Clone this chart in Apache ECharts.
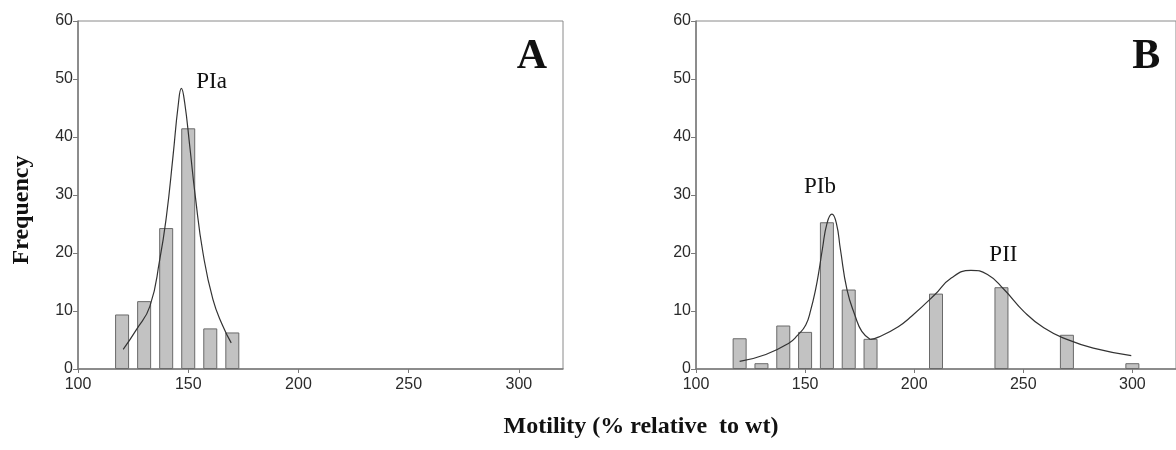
<!DOCTYPE html>
<html>
<head>
<meta charset="utf-8">
<script src="https://cdn.jsdelivr.net/npm/echarts@6/dist/echarts.min.js"></script>
<style>html,body{margin:0;padding:0;background:#fff;}#c{width:1176px;height:450px;}</style>
</head>
<body>
<div id="c"></div>
<script>
// ---- data ----
const xTicks = [100, 150, 200, 250, 300];
const barsA_x = [120, 130, 140, 150, 160, 170];
const barsA_y = [9.4, 11.7, 24.3, 41.5, 7.0, 6.3];
const curveA = [[120.5,3.4],[126.5,6.8],[132.6,10.8],[137.1,18.9],[140.1,26.3],[143.1,36.7],[145.4,45.3],[146.9,48.4],[148.4,45.9],[150.7,38.4],[153.2,29.8],[156.7,20.0],[161.2,12.0],[165.7,7.4],[169.5,4.5]];
const barsB_x = [120, 130, 140, 150, 160, 170, 180, 210, 240, 270, 300];
const barsB_y = [5.3, 1.0, 7.5, 6.4, 25.3, 13.7, 5.2, 13.0, 14.1, 5.9, 1.0];
const curvePIb = [[120,1.3],[132,2.5],[142.7,4.5],[146.5,5.8],[150.3,7.6],[152.6,10.2],[154.8,13.7],[156.4,17.0],[157.9,20.6],[160.1,25.2],[162.3,26.7],[164.3,25.2],[166.2,20.6],[169.2,13.7],[173,9.1],[176,6.5],[179.9,5.1]];
const curvePII = [[179.9,5.1],[183.6,5.5],[192.7,7.3],[198.8,9.1],[209.4,12.8],[217,15.7],[226,17.0],[233.6,16.3],[241.2,13.7],[250.3,9.9],[259.4,7.1],[270,5.1],[282.1,3.6],[299.5,2.3]];
const peakLabels = [
  {panel: 0, name: 'PIa', at: [160.6, 49.5]},
  {panel: 1, name: 'PIb', at: [156.8, 31.4]},
  {panel: 1, name: 'PII', at: [240.9, 19.7]}
];
const panelLetters = [{panel: 0, name: 'A', at: [305.9, 53.8]}, {panel: 1, name: 'B', at: [306.4, 53.8]}];

// ---- chart ----
const chart = echarts.init(document.getElementById('c'), null, {renderer: 'canvas'});
const serif = "'Liberation Serif', 'Times New Roman', serif";
const sans = "'Liberation Sans', Arial, sans-serif";

function xAxis(i) {
  return {
    type: 'value', gridIndex: i, min: 100, max: 320, interval: 50,
    axisLine: {show: true, onZero: false, lineStyle: {color: '#7a7a7a', width: 1.5}},
    axisTick: {show: true, inside: false, length: 4, lineStyle: {color: '#7a7a7a'}, customValues: xTicks},
    axisLabel: {color: '#2a2a2a', fontSize: 16, fontFamily: sans, margin: 8, customValues: xTicks},
    splitLine: {show: false}
  };
}
function yAxis(i) {
  return {
    type: 'value', gridIndex: i, min: 0, max: 60, interval: 10,
    axisLine: {show: true, lineStyle: {color: '#7a7a7a', width: 1.5}},
    axisTick: {show: true, inside: false, length: 5, lineStyle: {color: '#7a7a7a'}},
    axisLabel: {color: '#2a2a2a', fontSize: 16, fontFamily: sans, margin: 5},
    splitLine: {show: false}
  };
}
const barStyle = {color: '#c2c2c2', borderColor: '#6a6a6a', borderWidth: 1};
const lineStyle = {color: '#333', width: 1.2};

const option = {
  animation: false,
  backgroundColor: '#fff',
  grid: [
    {left: 78, top: 21, width: 485, height: 348, show: true, borderColor: '#8a8a8a', borderWidth: 1},
    {left: 696, top: 21, right: -4, height: 348, show: true, borderColor: '#8a8a8a', borderWidth: 1}
  ],
  xAxis: [xAxis(0), xAxis(1)],
  yAxis: [yAxis(0), yAxis(1)],
  series: [
    {type: 'bar', xAxisIndex: 0, yAxisIndex: 0, barWidth: 14, itemStyle: barStyle,
      data: barsA_x.map((x, k) => [x, barsA_y[k]])},
    {type: 'line', xAxisIndex: 0, yAxisIndex: 0, data: curveA, smooth: 0.5, showSymbol: false, lineStyle: lineStyle},
    {type: 'bar', xAxisIndex: 1, yAxisIndex: 1, barWidth: 14, itemStyle: barStyle,
      data: barsB_x.map((x, k) => [x, barsB_y[k]])},
    {type: 'line', xAxisIndex: 1, yAxisIndex: 1, data: curvePIb, smooth: 0.5, showSymbol: false, lineStyle: lineStyle},
    {type: 'line', xAxisIndex: 1, yAxisIndex: 1, data: curvePII, smooth: 0.5, showSymbol: false, lineStyle: lineStyle}
  ],
  graphic: [
    {type: 'text', x: 641, y: 427, style: {text: 'Motility (% relative  to wt)', font: "bold 24px " + serif, fill: '#111', align: 'center', verticalAlign: 'middle'}},
    {type: 'text', x: 22, y: 210, rotation: Math.PI / 2, style: {text: 'Frequency', font: "bold 24px " + serif, fill: '#111', align: 'center', verticalAlign: 'middle'}}
  ]
};
chart.setOption(option);

// annotation texts placed through the axes' own scales
const extra = [];
function place(list, size, weight) {
  list.forEach(d => {
    const p = chart.convertToPixel({xAxisIndex: d.panel, yAxisIndex: d.panel}, d.at);
    extra.push({type: 'text', x: p[0], y: p[1], style: {text: d.name, font: weight + ' ' + size + 'px ' + serif, fill: '#111', align: 'center', verticalAlign: 'middle'}});
  });
}
place(peakLabels, 23, 'normal');
place(panelLetters, 42, 'bold');
chart.setOption({graphic: option.graphic.concat(extra)});
</script>
</body>
</html>
